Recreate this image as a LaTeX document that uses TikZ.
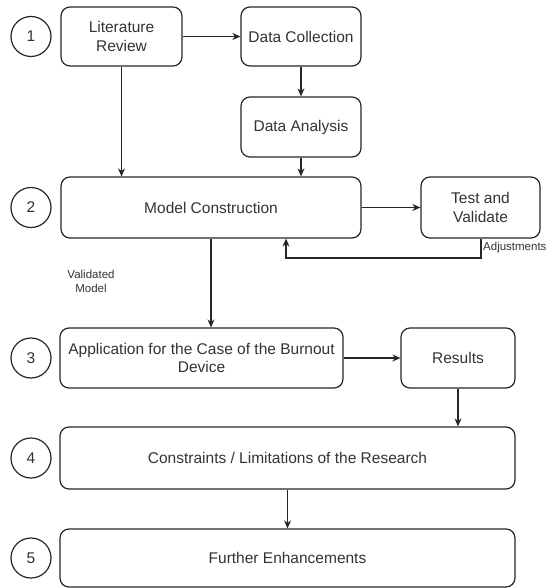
\documentclass[tikz,border=0pt]{standalone}
\usepackage{fontspec}
\setmainfont{Liberation Sans}
\usepackage{tikz}
\usetikzlibrary{arrows.meta, positioning, calc}

\tikzset{
  stagebox/.style={draw=black!85, line width=1.2pt, rounded corners=9pt, align=center,
    font=\fontsize{15.5}{18.5}\selectfont, text=black!80, inner sep=2pt},
  stagenum/.style={draw=black!85, line width=1.2pt, circle, minimum size=40pt, inner sep=0pt,
    font=\fontsize{15.5}{18.5}\selectfont, text=black!80},
  flow/.style={draw=black!85, line width=1.2pt, -{Stealth[length=8pt, width=7pt]}},
  flowlabel/.style={font=\fontsize{11.5}{13.5}\selectfont, text=black!80, align=center, inner sep=0pt}
}

\begin{document}
\begin{tikzpicture}[x=1pt, y=-1pt]
  \useasboundingbox (0,0) rectangle (548,588);

  % Stage numbers
  \node[stagenum] (n1) at (31, 36.5) {1};
  \node[stagenum] (n2) at (31, 207.5) {2};
  \node[stagenum] (n3) at (31, 358) {3};
  \node[stagenum] (n4) at (31, 458) {4};
  \node[stagenum] (n5) at (31, 558) {5};

  % Boxes
  \node[stagebox, minimum width=121pt, minimum height=59pt] (litreview) at (121.5, 36.5) {Literature\\Review};
  \node[stagebox, minimum width=120pt, minimum height=59pt] (datacoll) at (301, 36.5) {Data Collection};
  \node[stagebox, minimum width=120pt, minimum height=60pt] (dataanal) at (301, 127) {Data Analysis};
  \node[stagebox, minimum width=300pt, minimum height=61pt] (model) at (211, 207.5) {Model Construction};
  \node[stagebox, minimum width=119pt, minimum height=61pt] (testval) at (480.5, 207.5) {Test and\\Validate};
  \node[stagebox, minimum width=283pt, minimum height=60pt] (application) at (201.5, 358) {Application for the Case of the Burnout\\Device};
  \node[stagebox, minimum width=114pt, minimum height=60pt] (results) at (458, 358) {Results};
  \node[stagebox, minimum width=455pt, minimum height=62pt] (constraints) at (287.5, 458) {Constraints / Limitations of the Research};
  \node[stagebox, minimum width=455pt, minimum height=58pt] (further) at (287.5, 558) {Further Enhancements};

  % Connectors
  \draw[flow] (litreview) -- (datacoll);
  \draw[flow] (litreview.south) -- (litreview.south |- model.north);
  \draw[flow] (datacoll) -- (dataanal);
  \draw[flow] (dataanal.south) -- (dataanal.south |- model.north);
  \draw[flow] (model) -- (testval);
  \coordinate (adjcorner) at (481, 258);
  \coordinate (adjend) at (286, 258);
  \draw[flow] (testval.south -| adjcorner) -- (adjcorner) -- (adjend) -- (adjend |- model.south);
  \node[flowlabel, anchor=west] (adjlabel) at (483, 248) {Adjustments};
  \draw[flow] (model.south) -- (model.south |- application.north);
  \node[flowlabel] (vallabel) at (91, 281.5) {Validated\\Model};
  \draw[flow] (application) -- (results);
  \draw[flow] (results.south) -- (results.south |- constraints.north);
  \draw[flow] (constraints) -- (further);
\end{tikzpicture}
\end{document}
